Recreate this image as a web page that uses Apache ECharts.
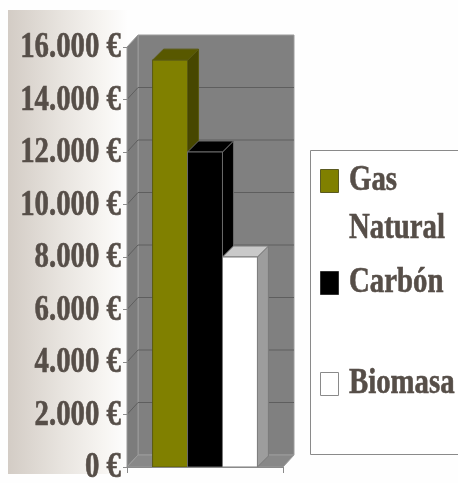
<!DOCTYPE html>
<html>
<head>
<meta charset="utf-8">
<script src="https://cdn.jsdelivr.net/npm/echarts@6/dist/echarts.min.js"></script>
<style>
  html, body { margin: 0; padding: 0; background: #fefefe; }
  #chart { width: 458px; height: 483px; }
</style>
</head>
<body>
<div id="chart"></div>
<script>
// Coste por tipo de combustible
const categories = [''];
const seriesNames = ['Gas Natural', 'Carbón', 'Biomasa'];
const gasNatural = [15500];
const carbon = [12000];
const biomasa = [8000];
const tickValues = [0, 2000, 4000, 6000, 8000, 10000, 12000, 14000, 16000];
const tickLabels = ['0 €', '2.000 €', '4.000 €', '6.000 €', '8.000 €', '10.000 €', '12.000 €', '14.000 €', '16.000 €'];

const FONT = '"Liberation Serif", "Times New Roman", serif';
const TEXT_COLOR = '#564e48';
const WALL_DX = 11, WALL_DY = -12;   // depth offset of the walls
const BAR_DX = 11, BAR_DY = -11;     // depth offset of the columns
const BAR_SHARE = 0.224;             // column width as a share of the category band

// Faces of each column: front, top, side
const barFaces = [
  { front: '#808000', top: '#585800', side: '#474700', stroke: '#5a5a10' },
  { front: '#000000', top: '#000000', side: '#000000', stroke: '#6a6a6a' },
  { front: '#ffffff', top: '#c9c9c9', side: '#9d9d9d', stroke: '#7a7a7a' }
];

// Heavy condensed serif text style
function labelStyle(text, align) {
  return { text: text, fill: TEXT_COLOR, stroke: TEXT_COLOR, lineWidth: 0.6,
    font: 'bold 36px ' + FONT, textAlign: align, textVerticalAlign: 'middle' };
}

// Back wall, side wall, floor, gridlines and value labels
function renderWalls(params, api) {
  const cs = params.coordSys;
  const L = cs.x, R = cs.x + cs.width, T = cs.y, B = cs.y + cs.height;
  const dx = WALL_DX, dy = WALL_DY;
  const line = '#9b9b9b';
  const children = [
    { type: 'rect', shape: { x: L + dx, y: T + dy, width: cs.width, height: cs.height },
      style: { fill: '#808080', stroke: line, lineWidth: 1 } },
    { type: 'polygon', shape: { points: [[L, B], [L, T], [L + dx, T + dy], [L + dx, B + dy]] },
      style: { fill: '#7c7c7c', stroke: line, lineWidth: 1 } },
    { type: 'polygon', shape: { points: [[L, B], [R, B], [R + dx, B + dy], [L + dx, B + dy]] },
      style: { fill: '#888888', stroke: line, lineWidth: 1 } }
  ];
  tickValues.forEach(function (v, i) {
    const y = api.coord([0, v])[1];
    if (v > tickValues[0] && v < tickValues[tickValues.length - 1]) {
      children.push({ type: 'line', shape: { x1: L + dx, y1: y + dy, x2: R + dx, y2: y + dy },
        style: { stroke: '#5e5e5e', lineWidth: 1 } });
      children.push({ type: 'line', shape: { x1: L, y1: y, x2: L + dx, y2: y + dy },
        style: { stroke: '#5e5e5e', lineWidth: 1 } });
    }
    children.push({ type: 'text', x: L - 6, y: y + 1, scaleX: 0.8, scaleY: 1,
      style: labelStyle(tickLabels[i], 'right') });
  });
  return { type: 'group', children: children };
}

function makeBarRenderer(idx) {
  const f = barFaces[idx];
  return function (params, api) {
    const c = api.coord([api.value(0), api.value(1)]);
    const base = api.coord([api.value(0), 0]);
    const band = api.size([1, 0])[0];
    const bw = band * BAR_SHARE;
    const x0 = c[0] - 1.5 * bw + idx * bw, x1 = x0 + bw;
    const top = c[1], bot = base[1];
    const dx = BAR_DX, dy = BAR_DY;
    return {
      type: 'group',
      children: [
        { type: 'polygon', shape: { points: [[x1, top], [x1 + dx, top + dy], [x1 + dx, bot + dy], [x1, bot]] },
          style: { fill: f.side, stroke: f.stroke, lineWidth: 1 } },
        { type: 'polygon', shape: { points: [[x0, top], [x1, top], [x1 + dx, top + dy], [x0 + dx, top + dy]] },
          style: { fill: f.top, stroke: f.stroke, lineWidth: 1 } },
        { type: 'rect', shape: { x: x0, y: top, width: bw, height: bot - top },
          style: { fill: f.front, stroke: f.stroke, lineWidth: 1 } }
      ]
    };
  };
}

const seriesData = [gasNatural, carbon, biomasa];

// Legend entries (marker + label lines)
const legendEntries = [
  { color: '#808000', stroke: '#5a5a20', lines: ['Gas', 'Natural'], y: 181 },
  { color: '#000000', stroke: '#333333', lines: ['Carbón'], y: 283 },
  { color: '#ffffff', stroke: '#8a8a8a', lines: ['Biomasa'], y: 384 }
];
const legendGraphics = [
  { type: 'rect', shape: { x: 310.5, y: 150.5, width: 160, height: 304 },
    style: { fill: '#ffffff', stroke: '#8a8a8a', lineWidth: 1 }, z: 10 }
];
legendEntries.forEach(function (e) {
  legendGraphics.push({ type: 'rect', shape: { x: 320.5, y: e.y - 11.5, width: 18, height: 23 },
    style: { fill: e.color, stroke: e.stroke, lineWidth: 1 }, z: 11 });
  e.lines.forEach(function (t, j) {
    legendGraphics.push({ type: 'text', x: 349, y: e.y + j * 48, scaleX: 0.8, scaleY: 1,
      style: labelStyle(t, 'left'), z: 11 });
  });
});

const chart = echarts.init(document.getElementById('chart'), null, { renderer: 'canvas' });
chart.setOption({
  animation: false,
  backgroundColor: '#fefefe',
  grid: { left: 127, right: 175, top: 47, bottom: 16 },
  xAxis: {
    type: 'category', data: categories, boundaryGap: true,
    axisLine: { show: true, lineStyle: { color: '#8a8a8a', width: 1 } },
    axisTick: { show: true, length: 6, lineStyle: { color: '#8a8a8a' } },
    axisLabel: { show: false }, splitLine: { show: false }, z: 5
  },
  yAxis: {
    type: 'value', min: 0, max: 16000, interval: 2000,
    axisLine: { show: true, lineStyle: { color: '#8a8a8a', width: 1 } },
    axisTick: { show: true, length: 4, lineStyle: { color: '#8a8a8a' } },
    axisLabel: { show: false }, splitLine: { show: false }, z: 5
  },
  graphic: [
    { type: 'rect', shape: { x: 8, y: 10, width: 120, height: 464 }, z: -10,
      style: { fill: new echarts.graphic.LinearGradient(0, 0, 1, 0, [
        { offset: 0, color: '#d3ccc5' },
        { offset: 0.45, color: '#e8e4df' },
        { offset: 0.8, color: '#f7f5f2' },
        { offset: 1, color: '#fefefe' }
      ]) } }
  ].concat(legendGraphics),
  series: [
    { type: 'custom', name: 'walls', renderItem: renderWalls, data: [[0, 0]], clip: false, z: 1, silent: true }
  ].concat(seriesNames.map(function (name, i) {
    return {
      type: 'custom', name: name, renderItem: makeBarRenderer(i), clip: false, z: 2 + i,
      data: seriesData[i].map(function (v, k) { return [k, v]; })
    };
  }))
});
</script>
</body>
</html>
